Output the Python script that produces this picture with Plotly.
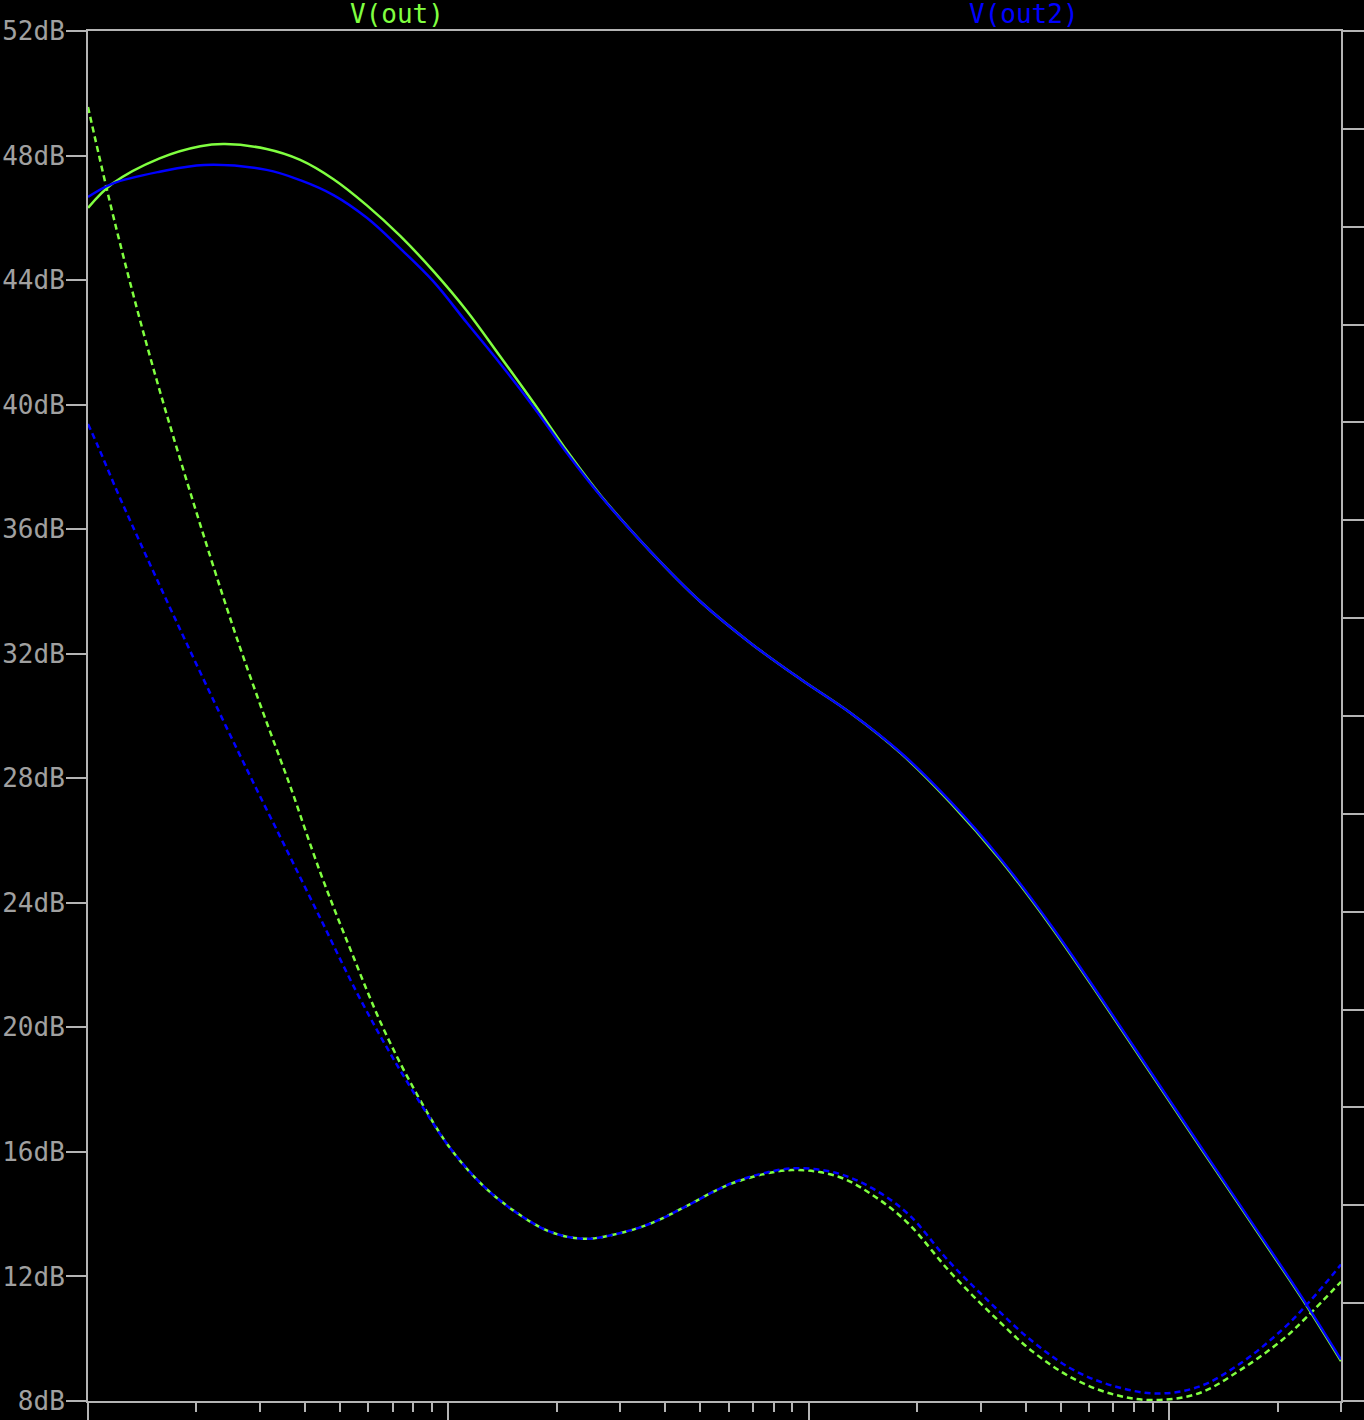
import plotly.graph_objects as go

# ---- data (frequency in Hz, magnitude in dB) ----
out_freq = [10, 11.7, 15.8, 20.5, 24.0, 31.3, 38.8, 48.0, 59.4, 73.5, 91.0, 112.7, 139, 172.6, 213.8,
            264, 364, 501, 690, 950, 1309, 1802, 2479, 3414, 4701, 6471, 8913, 12270, 16900, 23280, 30000]
out_db = [46.32, 47.1, 47.91, 48.30, 48.37, 48.21, 47.86, 47.24, 46.40, 45.42, 44.28, 43.0, 41.56,
          40.05, 38.50, 37.1, 35.28, 33.67, 32.34, 31.18, 30.09, 28.80, 27.2, 25.36, 23.24, 20.91,
          18.51, 16.11, 13.72, 11.32, 9.28]

out2_freq = [10, 11.7, 15.8, 21.0, 31.3, 38.8, 48.0, 59.4, 73.5, 91.0, 112.7, 139, 172.6, 213.8,
             264, 364, 501, 690, 950, 1309, 1802, 2479, 3414, 4701, 6471, 8913, 12270, 16900, 23280, 30000]
out2_db = [46.67, 47.1, 47.48, 47.70, 47.54, 47.21, 46.73, 46.00, 45.02, 43.95, 42.62, 41.33, 39.92,
           38.43, 37.08, 35.28, 33.67, 32.34, 31.18, 30.09, 28.82, 27.24, 25.40, 23.28, 20.95, 18.55,
           16.15, 13.76, 11.36, 9.33]

out_ph_freq = [10, 11.9, 14.9, 19.2, 25.2, 30.0, 34.2, 36.4, 44.1, 53.4, 66.1, 81.8, 101, 125, 155,
               192, 238, 294, 364, 451, 557, 653, 899, 1205, 1528, 1890, 2465, 3212, 4190, 5461,
               7125, 9040, 12110, 15790, 20600, 24160, 30000]
out_ph = [49.56, 45.80, 41.50, 37.20, 32.90, 30.39, 28.60, 27.75, 24.98, 22.52, 19.95, 17.85, 16.13,
          14.91, 14.04, 13.43, 13.21, 13.37, 13.70, 14.22, 14.78, 15.10, 15.42, 15.21, 14.56, 13.70,
          12.15, 10.80, 9.58, 8.70, 8.19, 8.03, 8.25, 9.00, 9.96, 10.71, 11.83]

out2_ph_freq = [10, 10.68, 12.06, 13.7, 17.7, 23.0, 29.3, 34.9, 44.1, 56.0, 69.8, 89.1, 101, 125, 155,
                192, 238, 294, 364, 451, 557, 653, 899, 1205, 1528, 1890, 2465, 3212, 4190, 5461,
                7125, 9290, 12110, 15790, 20600, 24790, 30000]
out2_ph = [39.38, 38.64, 37.20, 35.77, 32.97, 30.18, 27.67, 25.90, 23.51, 21.07, 19.06, 17.06, 16.13,
           14.91, 14.04, 13.43, 13.21, 13.37, 13.70, 14.22, 14.78, 15.12, 15.47, 15.31, 14.78, 14.00,
           12.45, 11.12, 9.90, 8.98, 8.46, 8.24, 8.46, 9.21, 10.29, 11.25, 12.38]

decade_ticks = [10, 100, 1000, 10000]
minor_ticks = [m * d for d in [10, 100, 1000, 10000] for m in range(2, 10) if m * d <= 30000]

GREEN = "#80ff40"
BLUE = "#0000ff"
AXIS = "#b4b4b4"
TEXT = "#a0a0a0"
FONT = "DejaVu Sans Mono"

fig = go.Figure()
fig.add_trace(go.Scatter(x=out_ph_freq, y=out_ph, mode="lines",
                         line=dict(color=GREEN, width=2.5, dash="6px,4px", shape="spline", smoothing=1),
                         showlegend=False, hoverinfo="skip"))
fig.add_trace(go.Scatter(x=out_freq, y=out_db, mode="lines",
                         line=dict(color=GREEN, width=2.5, shape="spline", smoothing=1),
                         showlegend=False))
fig.add_trace(go.Scatter(x=out2_ph_freq, y=out2_ph, mode="lines",
                         line=dict(color=BLUE, width=2.5, dash="6px,4px", shape="spline", smoothing=1),
                         showlegend=False, hoverinfo="skip"))
fig.add_trace(go.Scatter(x=out2_freq, y=out2_db, mode="lines",
                         line=dict(color=BLUE, width=2.5, shape="spline", smoothing=1),
                         showlegend=False))
# empty trace to anchor the right-hand axis
fig.add_trace(go.Scatter(x=[], y=[], yaxis="y2", showlegend=False))

fig.update_layout(
    width=1364, height=1420,
    margin=dict(l=88, r=23, t=31, b=19, autoexpand=False),
    paper_bgcolor="black", plot_bgcolor="black",
    font=dict(family=FONT, size=26, color=TEXT),
    xaxis=dict(
        type="log", range=[1, 4.4771], showgrid=False, zeroline=False, automargin=False,
        showline=True, linecolor=AXIS, linewidth=2, mirror=True,
        tickvals=decade_ticks, ticks="outside", ticklen=19, tickwidth=2, tickcolor=AXIS,
        showticklabels=False,
        minor=dict(tickvals=minor_ticks, ticks="outside", ticklen=9, tickwidth=2,
                   tickcolor=AXIS, showgrid=False),
    ),
    yaxis=dict(
        range=[8, 52], dtick=4, tick0=8, showgrid=False, zeroline=False, automargin=False,
        showline=True, linecolor=AXIS, linewidth=2,
        ticks="outside", ticklen=20, tickwidth=2, tickcolor=AXIS, ticklabelstandoff=-4,
        ticksuffix="dB", tickfont=dict(family=FONT, size=26, color=TEXT),
    ),
    yaxis2=dict(
        overlaying="y", side="right", range=[0, 14], dtick=1, tick0=0, automargin=False,
        showgrid=False, zeroline=False, showline=True, linecolor=AXIS, linewidth=2,
        ticks="outside", ticklen=21, tickwidth=2, tickcolor=AXIS, showticklabels=False,
    ),
    annotations=[
        dict(text="V(out)", x=0.247, y=1.0124, xref="paper", yref="paper",
             xanchor="center", yanchor="middle", showarrow=False,
             font=dict(family=FONT, size=26, color=GREEN)),
        dict(text="V(out2)", x=0.747, y=1.0124, xref="paper", yref="paper",
             xanchor="center", yanchor="middle", showarrow=False,
             font=dict(family=FONT, size=26, color=BLUE)),
    ],
)

fig.write_html("out.html", config={"displayModeBar": False},
               post_script="document.body.style.margin='0';document.body.style.background='black';")
